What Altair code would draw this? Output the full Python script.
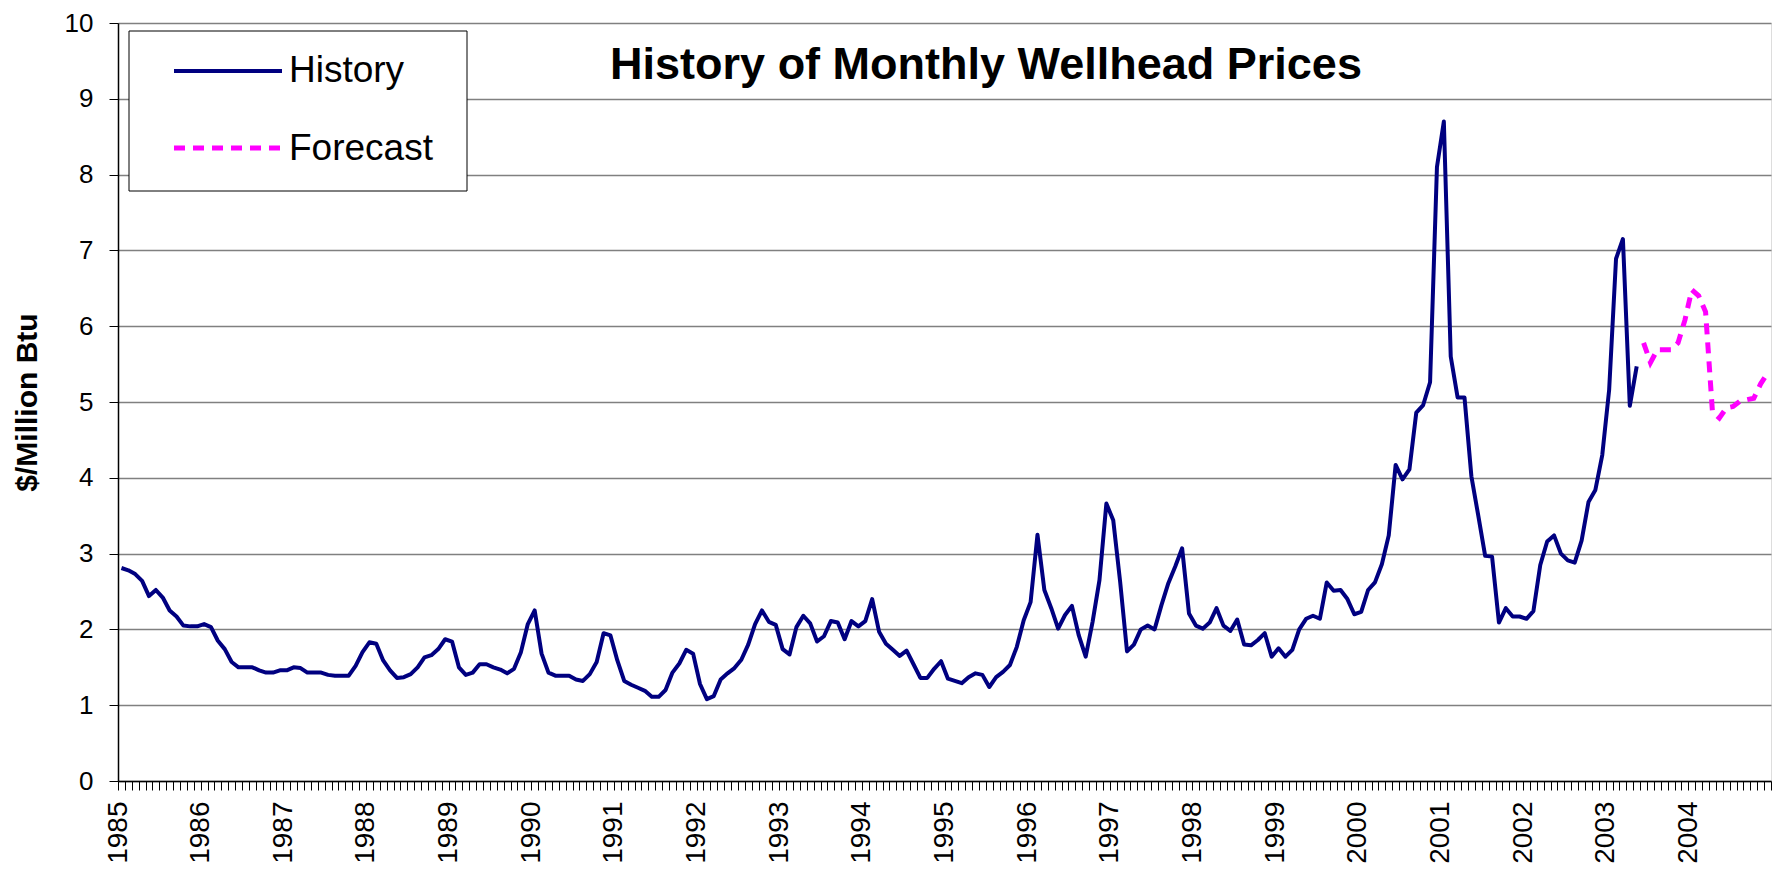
import altair as alt
import pandas as pd

# ---- data (monthly wellhead prices, $/Million Btu) ----
series_names = ["History", "Forecast"]
first_year = 1985
last_year = 2004
chart_title = "History of Monthly Wellhead Prices"
y_title = "$/Million Btu"

# Jan 1985 .. May 2003
history = [
    2.81, 2.78, 2.73, 2.64, 2.44, 2.52, 2.42, 2.25, 2.17, 2.05, 2.04, 2.04,
    2.07, 2.03, 1.85, 1.74, 1.57, 1.50, 1.50, 1.50, 1.46, 1.43, 1.43, 1.46,
    1.46, 1.50, 1.49, 1.43, 1.43, 1.43, 1.40, 1.39, 1.39, 1.39, 1.52, 1.70,
    1.83, 1.81, 1.59, 1.46, 1.36, 1.37, 1.41, 1.50, 1.63, 1.66, 1.74, 1.87,
    1.84, 1.50, 1.40, 1.43, 1.54, 1.54, 1.50, 1.47, 1.42, 1.48, 1.70, 2.07,
    2.25, 1.68, 1.43, 1.39, 1.39, 1.39, 1.34, 1.32, 1.41, 1.57, 1.95, 1.92,
    1.59, 1.32, 1.27, 1.23, 1.19, 1.11, 1.11, 1.20, 1.43, 1.55, 1.73, 1.68,
    1.28, 1.08, 1.12, 1.34, 1.42, 1.49, 1.60, 1.80, 2.07, 2.25, 2.10, 2.06,
    1.74, 1.67, 2.03, 2.18, 2.08, 1.84, 1.91, 2.11, 2.09, 1.87, 2.11, 2.04,
    2.11, 2.40, 1.97, 1.81, 1.73, 1.65, 1.72, 1.54, 1.36, 1.36, 1.48, 1.58,
    1.35, 1.32, 1.29, 1.37, 1.42, 1.40, 1.24, 1.37, 1.44, 1.53, 1.77, 2.12,
    2.36, 3.25, 2.52, 2.28, 2.01, 2.19, 2.31, 1.92, 1.64, 2.10, 2.65, 3.66,
    3.44, 2.63, 1.71, 1.80, 2.00, 2.05, 2.00, 2.32, 2.61, 2.83, 3.07, 2.21,
    2.05, 2.01, 2.09, 2.28, 2.05, 1.98, 2.13, 1.80, 1.79, 1.86, 1.95, 1.64,
    1.75, 1.64, 1.73, 2.00, 2.14, 2.18, 2.14, 2.62, 2.51, 2.52, 2.40, 2.20,
    2.23, 2.52, 2.62, 2.86, 3.24, 4.17, 3.98, 4.11, 4.86, 4.96, 5.26, 8.10,
    8.70, 5.60, 5.06, 5.06, 4.02, 3.50, 2.97, 2.96, 2.09, 2.28, 2.17, 2.17,
    2.14, 2.24, 2.85, 3.16, 3.24, 3.00, 2.91, 2.88, 3.17, 3.68, 3.84, 4.30,
    5.16, 6.89, 7.15, 4.95, 5.47,
]

# Jun 2003 .. Dec 2004
forecast = [
    5.78, 5.52, 5.69, 5.69, 5.69, 5.78, 6.08,
    6.48, 6.40, 6.19, 4.87, 4.79, 4.92, 4.94, 5.01, 5.03, 5.05, 5.24, 5.38,
]

n_months = (last_year - first_year + 1) * 12

hist_df = pd.DataFrame({
    "month": [i + 0.5 for i in range(len(history))],
    "price": history,
    "series": series_names[0],
})
fc_df = pd.DataFrame({
    "month": [len(history) + i + 0.5 for i in range(len(forecast))],
    "price": forecast,
    "series": series_names[1],
})

FONT = "Liberation Sans"
NAVY = "#000080"
MAGENTA = "#FF00FF"

x_enc = alt.X(
    "month:Q",
    scale=alt.Scale(domain=[0, n_months], nice=False, zero=False),
    axis=alt.Axis(
        values=list(range(0, n_months + 1)),
        tickCount=n_months + 10,
        labelExpr=f"datum.value % 12 == 0 && datum.value < {n_months} ? '' + ({first_year} + datum.value / 12) : ''",
        title=None,
        grid=False,
        tickSize=9,
        tickColor="black",
        tickWidth=1,
        domainColor="black",
        domainWidth=1.5,
        labelAngle=270,
        labelFontSize=28,
        labelFont=FONT,
        labelColor="black",
        labelPadding=11,
        labelOverlap=False,
        labelBound=False,
        labelFlush=False,
    ),
)

y_enc = alt.Y(
    "price:Q",
    scale=alt.Scale(domain=[0, 10], nice=False, zero=True),
    axis=alt.Axis(
        values=list(range(0, 11)),
        format="d",
        title=y_title,
        titleFont=FONT,
        titleFontSize=30,
        titleFontWeight="bold",
        titleColor="black",
        titleAngle=270,
        titleAlign="center",
        titleBaseline="middle",
        titleX=-91,
        titleY=379,
        grid=True,
        gridColor="#808080",
        gridWidth=1.3,
        tickSize=9,
        tickColor="black",
        domainColor="black",
        domainWidth=1.5,
        labelFontSize=26,
        labelFont=FONT,
        labelColor="black",
        labelPadding=16,
    ),
)

hist_line = alt.Chart(hist_df).mark_line(
    color=NAVY, strokeWidth=4, strokeJoin="round"
).encode(x=x_enc, y=y_enc)

fc_line = alt.Chart(fc_df).mark_line(
    color=MAGENTA, strokeWidth=5, strokeDash=[11, 8]
).encode(x="month:Q", y="price:Q")

one = pd.DataFrame({"k": [0]})

legend_box = alt.Chart(one).mark_rect(
    fill="white", stroke="black", strokeWidth=1
).encode(x=alt.value(11), x2=alt.value(349), y=alt.value(8), y2=alt.value(168))

leg_hist_line = alt.Chart(one).mark_rule(color=NAVY, strokeWidth=4).encode(
    x=alt.value(56), x2=alt.value(164), y=alt.value(48)
)
leg_fc_line = alt.Chart(one).mark_rule(
    color=MAGENTA, strokeWidth=5, strokeDash=[11, 8]
).encode(x=alt.value(56), x2=alt.value(164), y=alt.value(125))

leg_hist_text = alt.Chart(pd.DataFrame({"label": [series_names[0]]})).mark_text(
    font=FONT, fontSize=37, align="left", baseline="middle", color="black"
).encode(text="label:N", x=alt.value(171), y=alt.value(48))
leg_fc_text = alt.Chart(pd.DataFrame({"label": [series_names[1]]})).mark_text(
    font=FONT, fontSize=37, align="left", baseline="middle", color="black"
).encode(text="label:N", x=alt.value(171), y=alt.value(126))

title_text = alt.Chart(pd.DataFrame({"t": [chart_title]})).mark_text(
    font=FONT, fontSize=45, fontWeight="bold", align="center", baseline="middle", color="black"
).encode(text="t:N", x=alt.value(868), y=alt.value(42))

chart = alt.layer(
    hist_line, fc_line, legend_box, leg_hist_line, leg_fc_line,
    leg_hist_text, leg_fc_text, title_text,
).properties(
    width=1653,
    height=758,
    autosize=alt.AutoSizeParams(type="none"),
    padding={"left": 110, "top": 15, "right": 1, "bottom": 84},
).configure_view(
    stroke="#808080", strokeWidth=2
).configure(background="white")

chart.save("out.html", embed_options={"renderer": "svg", "actions": False})
